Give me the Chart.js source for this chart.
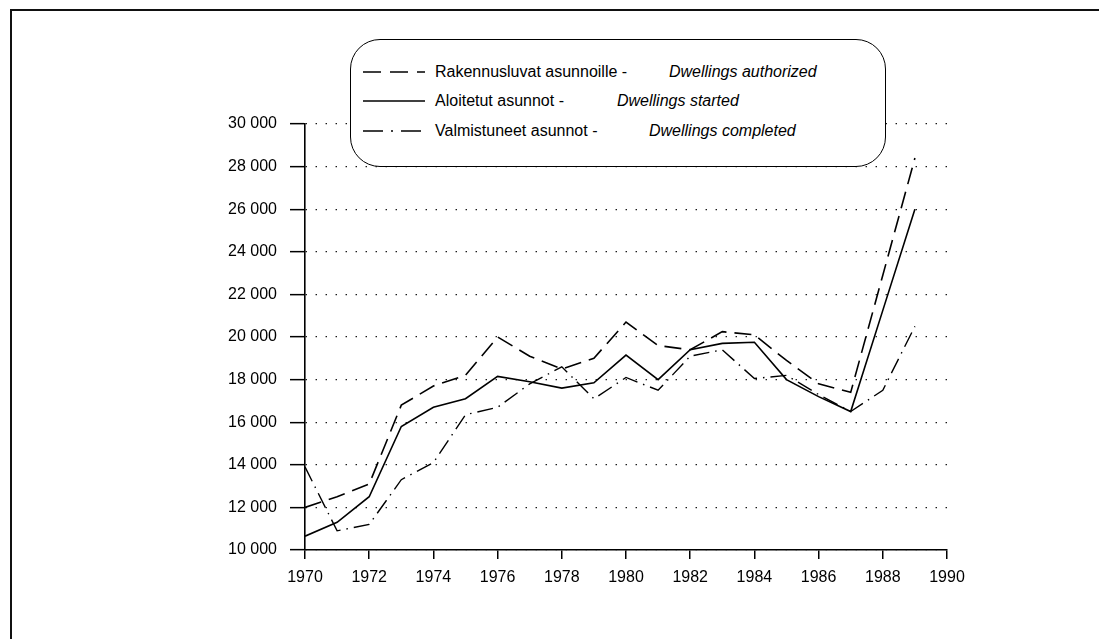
<!DOCTYPE html>
<html>
<head>
<meta charset="utf-8">
<script src="https://cdn.jsdelivr.net/npm/chart.js@4/dist/chart.umd.min.js"></script>
<style>
  body { margin: 0; background: #fff; }
  #wrap { position: relative; width: 1099px; height: 639px; overflow: hidden; font-family: "Liberation Sans", Arial, sans-serif; color: #000; }
  #frame { position: absolute; left: 10px; top: 9px; width: 1200px; height: 700px; border-top: 2px solid #111; border-left: 2px solid #111; }
  #chartLogements { position: absolute; left: 0; top: 0; }
  #legende { position: absolute; left: 350px; top: 39px; width: 534px; height: 126px; border: 1.5px solid #000; border-radius: 30px; background: #fff; }
  .rivi { position: absolute; left: 0; height: 20px; font-size: 16px; line-height: 20px; white-space: nowrap; }
  .rivi svg { position: absolute; left: 12px; top: 4px; }
  .fi { position: absolute; left: 84px; }
  .en { position: absolute; font-style: italic; }
</style>
</head>
<body>
<div id="wrap">
  <div id="frame"></div>
  <canvas id="chartLogements" width="1099" height="639"></canvas>
  <div id="legende">
    <div class="rivi" style="top:22px">
      <svg width="64" height="12"><line x1="0" y1="6" x2="62" y2="6" stroke="#000" stroke-width="1.6" stroke-dasharray="18,9"/></svg>
      <span class="fi">Rakennusluvat asunnoille -</span><span class="en" style="left:318px">Dwellings authorized</span>
    </div>
    <div class="rivi" style="top:51px">
      <svg width="64" height="12"><line x1="0" y1="6" x2="62" y2="6" stroke="#000" stroke-width="1.6"/></svg>
      <span class="fi">Aloitetut asunnot -</span><span class="en" style="left:266px">Dwellings started</span>
    </div>
    <div class="rivi" style="top:81px">
      <svg width="64" height="12"><line x1="0" y1="6" x2="62" y2="6" stroke="#000" stroke-width="1.6" stroke-dasharray="20,8,2,8"/></svg>
      <span class="fi">Valmistuneet asunnot -</span><span class="en" style="left:298px">Dwellings completed</span>
    </div>
  </div>
</div>
<script>
// annees et valeurs
const annees = [1970, 1971, 1972, 1973, 1974, 1975, 1976, 1977, 1978, 1979, 1980, 1981, 1982, 1983, 1984, 1985, 1986, 1987, 1988, 1989];
const rakennusluvat = [12000, 12500, 13100, 16800, 17700, 18200, 20000, 19100, 18500, 19000, 20700, 19600, 19400, 20250, 20100, 18900, 17800, 17400, 22900, 28400];
const aloitetut = [10650, 11300, 12500, 15800, 16700, 17100, 18150, 17900, 17600, 17850, 19150, 18000, 19400, 19700, 19750, 18000, 17200, 16500, 21250, 26000];
const valmistuneet = [13900, 10900, 11200, 13300, 14100, 16350, 16700, 17800, 18600, 17100, 18100, 17500, 19100, 19400, 18050, 18200, 17300, 16500, 17500, 20500];
const ticksY = [10000, 12000, 14000, 16000, 18000, 20000, 22000, 24000, 26000, 28000, 30000];
const ticksX = [1970, 1972, 1974, 1976, 1978, 1980, 1982, 1984, 1986, 1988, 1990];

function points(valeurs) {
    var pts = [];
    for (var i = 0; i < annees.length; i++) {
        pts.push({x: annees[i], y: valeurs[i]});
    }
    return pts;
}

function espaceMilliers(v) {
    return String(v).replace(/\B(?=(\d{3})+(?!\d))/g, ' ');
}

const police = {family: '"Liberation Sans", Arial, sans-serif', size: 16};

const data = {
    datasets: [
      {
        label: 'Rakennusluvat asunnoille - Dwellings authorized',
        data: points(rakennusluvat),
        borderColor: '#000',
        borderWidth: 1.6,
        borderDash: [17, 8],
      },
      {
        label: 'Aloitetut asunnot - Dwellings started',
        data: points(aloitetut),
        borderColor: '#000',
        borderWidth: 1.6,
      },
      {
        label: 'Valmistuneet asunnot - Dwellings completed',
        data: points(valmistuneet),
        borderColor: '#000',
        borderWidth: 1.4,
        borderDash: [16, 6, 1.5, 6],
      }
    ]
};

const config = {
    type: 'line',
    data: data,
    options: {
      responsive: false,
      animation: false,
      devicePixelRatio: 1,
      elements: { point: { radius: 0 }, line: { tension: 0, fill: false } },
      layout: { padding: { left: 0, top: 124, right: 152, bottom: 0 } },
      plugins: {
        legend: { display: false },
        title: { display: false },
        tooltip: { enabled: false }
      },
      scales: {
        x: {
          type: 'linear',
          min: 1970,
          max: 1990,
          afterBuildTicks: function(scale) { scale.ticks = ticksX.map(function(v) { return {value: v}; }); },
          afterFit: function(scale) { scale.height = 89; },
          grid: { drawOnChartArea: false, tickLength: 9, color: '#000', lineWidth: 1.5 },
          border: { color: '#000', width: 1.6 },
          ticks: { color: '#000', font: police, padding: 9, maxRotation: 0, callback: function(v) { return String(v); } }
        },
        y: {
          min: 10000,
          max: 30000,
          afterBuildTicks: function(scale) { scale.ticks = ticksY.map(function(v) { return {value: v}; }); },
          afterFit: function(scale) { scale.width = 305; },
          grid: { color: '#000', lineWidth: 1.3, tickLength: 15, tickWidth: 1.5 },
          border: { color: '#000', width: 1.6, dash: [1.3, 8.7] },
          ticks: { color: '#000', font: police, padding: 13, callback: function(v) { return espaceMilliers(v); } }
        }
      }
    }
};

const myChart = new Chart(document.getElementById('chartLogements'), config);
</script>
</body>
</html>
